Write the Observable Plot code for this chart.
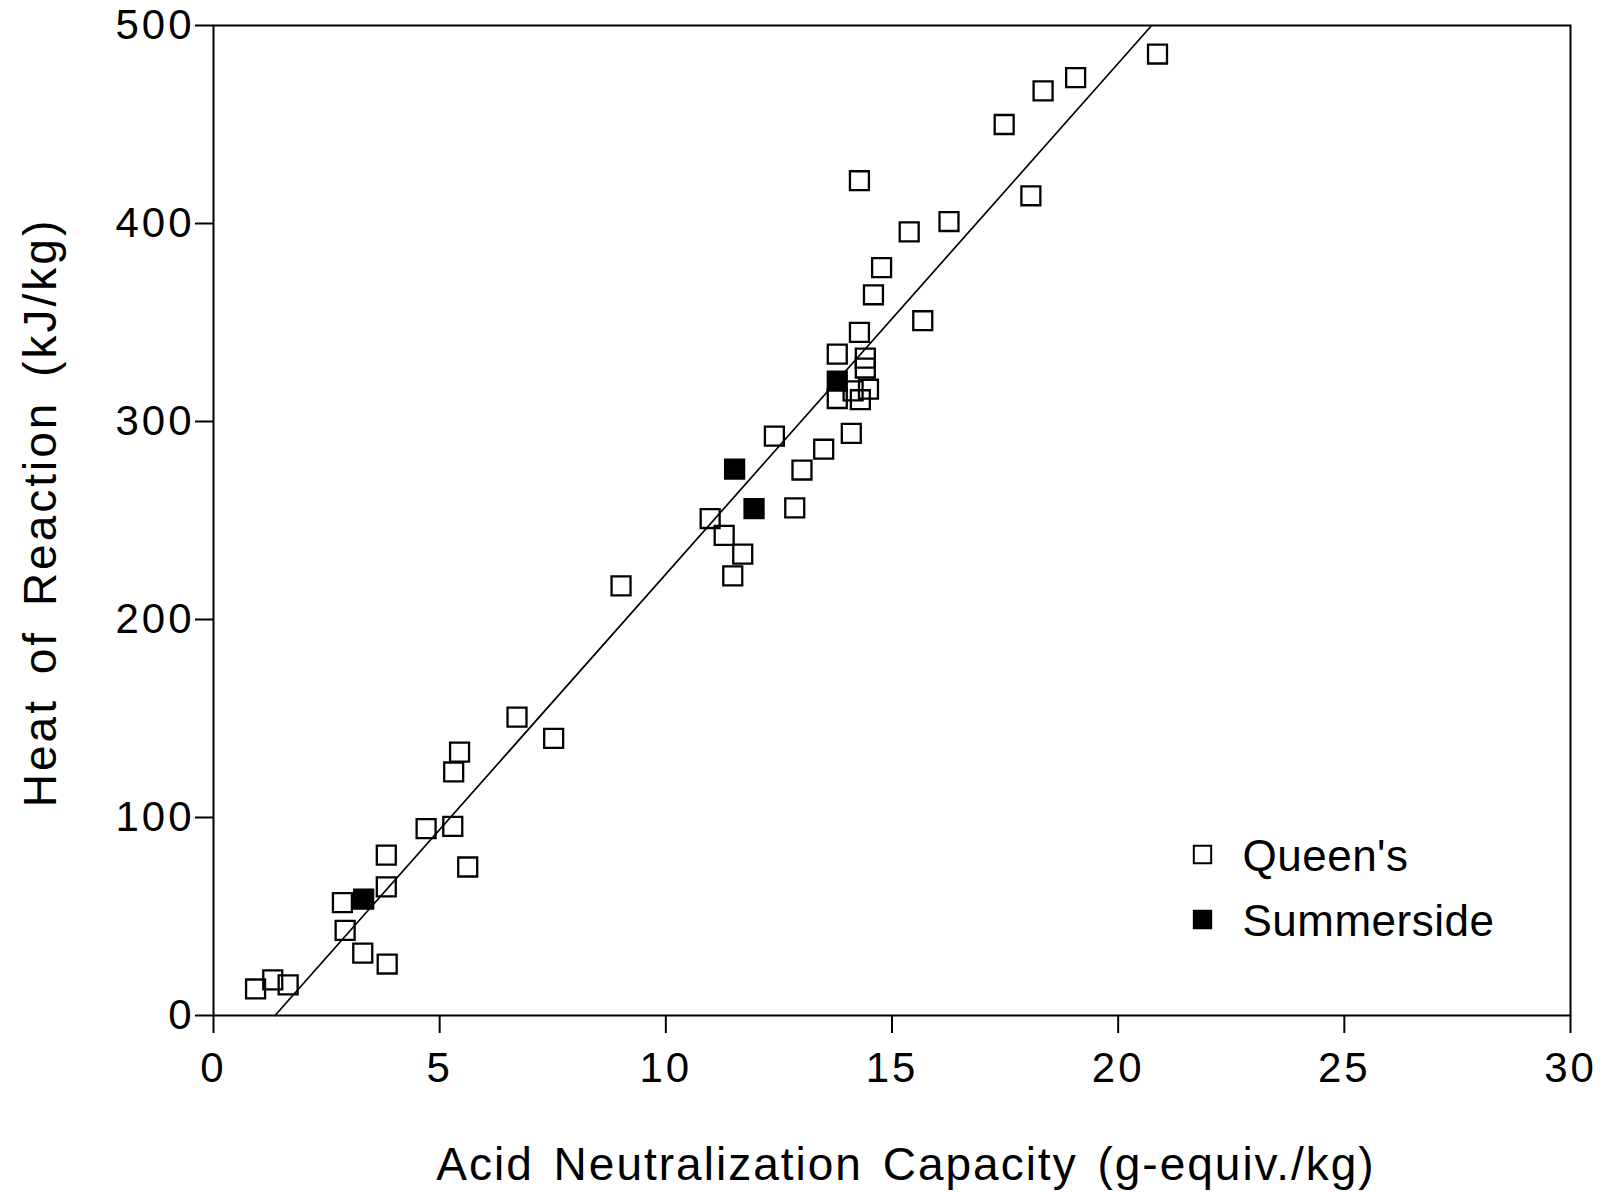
<!DOCTYPE html>
<html><head><meta charset="utf-8">
<script src="https://cdn.jsdelivr.net/npm/d3@7"></script>
<script src="https://cdn.jsdelivr.net/npm/@observablehq/plot@0.6"></script>
<style>body{margin:0;background:#fff}</style>
</head><body><div id="chart"></div>
<script>
// Queen's (open squares)
const queensX = [0.93, 1.31, 1.65, 2.85, 2.91, 3.30, 3.82, 3.82, 3.84, 4.70, 5.29, 5.31, 5.44, 5.62, 6.71, 7.52, 9.01,
  10.98, 11.29, 11.48, 11.70, 12.40, 12.85, 13.01, 13.49, 13.79, 13.79, 14.10, 14.28, 14.28, 14.41, 14.41, 14.14, 14.48, 14.30,
  14.59, 14.77, 15.38, 15.68, 16.26, 17.48, 18.07, 18.34, 19.06, 20.87];
const queensY = [13.4, 18, 15.5, 57, 43, 31.5, 81, 65, 26, 94.4, 95.5, 123, 133, 75, 150.7, 140, 217,
  251, 242.5, 222, 233, 292.6, 256.4, 275.5, 286, 334, 311.6, 294, 345, 421.6, 332, 327, 315.5, 316.3, 311,
  364, 377.7, 395.8, 350.9, 401, 450, 414, 467, 473.7, 485.6];
// Summerside (filled squares)
const summersideX = [3.32, 11.52, 11.95, 13.79];
const summersideY = [58.8, 276, 256, 320.4];
// fitted line end points
const fitX = [1.36, 20.74];
const fitY = [0, 500];
const xTicks = [0, 5, 10, 15, 20, 25, 30];
const yTicks = [0, 100, 200, 300, 400, 500];
const legendNames = ["Queen's", "Summerside"];
const xLabel = "Acid Neutralization Capacity (g-equiv./kg)";
const yLabel = "Heat of Reaction (kJ/kg)";

const queens = queensX.map((x, i) => ({x, y: queensY[i]}));
const summerside = summersideX.map((x, i) => ({x, y: summersideY[i]}));
const fit = fitX.map((x, i) => ({x, y: fitY[i]}));

const font = "'Liberation Sans', Arial, Helvetica, sans-serif";
const chart = Plot.plot({
  width: 1603,
  height: 1193,
  marginLeft: 213,
  marginRight: 33,
  marginTop: 25,
  marginBottom: 178,
  style: {fontFamily: font, fontSize: "42px", background: "#fff", color: "#000"},
  x: {domain: [0, 30]},
  y: {domain: [0, 500]},
  marks: [
    Plot.frame({stroke: "#000", strokeWidth: 2}),
    Plot.axisX(xTicks, {tickSize: 18, tickPadding: 19, strokeWidth: 2, label: null, fontSize: 42}),
    Plot.axisY(yTicks, {tickSize: 18, tickPadding: 1, strokeWidth: 2, label: null, fontSize: 42}),
    Plot.line(fit, {x: "x", y: "y", stroke: "#000", strokeWidth: 1.7}),
    Plot.dot(queens, {x: "x", y: "y", symbol: "square", r: 10.7, stroke: "#000", strokeWidth: 2.3, fill: "none"}),
    Plot.dot(summerside, {x: "x", y: "y", symbol: "square", r: 10.7, stroke: "#000", strokeWidth: 2.3, fill: "#000"}),
    // legend
    Plot.dot([legendNames[0]], {frameAnchor: "top-left", dx: 989, dy: 829, symbol: "square", r: 9.8, stroke: "#000", strokeWidth: 2, fill: "none"}),
    Plot.dot([legendNames[1]], {frameAnchor: "top-left", dx: 989, dy: 894, symbol: "square", r: 9.8, stroke: "#000", strokeWidth: 2, fill: "#000"}),
    Plot.text([legendNames[0]], {text: d => d, frameAnchor: "top-left", dx: 1029, dy: 831, textAnchor: "start", lineAnchor: "middle", fontSize: 44}),
    Plot.text([legendNames[1]], {text: d => d, frameAnchor: "top-left", dx: 1029, dy: 896, textAnchor: "start", lineAnchor: "middle", fontSize: 44}),
    // axis titles
    Plot.text([xLabel], {text: d => d, frameAnchor: "bottom", dx: 14, dy: 150, textAnchor: "middle", lineAnchor: "middle", fontSize: 46}),
    Plot.text([yLabel], {text: d => d, frameAnchor: "left", dx: -172, dy: -8, rotate: -90, textAnchor: "middle", lineAnchor: "middle", fontSize: 46})
  ]
});
const texts = d3.select(chart).selectAll("text");
texts.filter(function() { return this.textContent === xLabel; })
  .style("letter-spacing", "2px").style("word-spacing", "5px");
texts.filter(function() { return this.textContent === yLabel; })
  .style("letter-spacing", "3px").style("word-spacing", "8px");
texts.filter(function() { return legendNames.includes(this.textContent); })
  .style("letter-spacing", "0.5px");
texts.filter(function() { return /^\d+$/.test(this.textContent); })
  .style("letter-spacing", "3px");
document.getElementById("chart").appendChild(chart);
</script>
</body></html>
